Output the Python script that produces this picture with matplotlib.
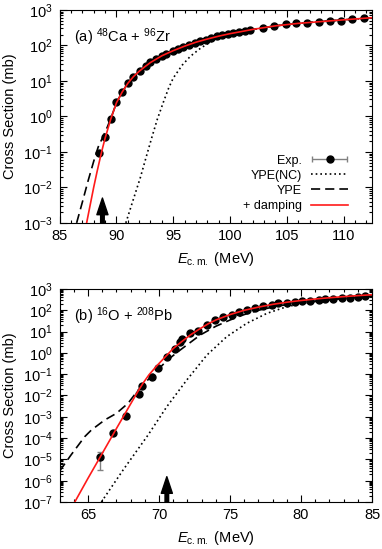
import numpy as np
import matplotlib
matplotlib.use("Agg")
import matplotlib.pyplot as plt
from matplotlib.container import ErrorbarContainer
from matplotlib.legend_handler import HandlerErrorbar
from matplotlib.ticker import MultipleLocator, LogLocator, NullFormatter

plt.rcParams["font.family"] = ["Liberation Sans", "DejaVu Sans"]
plt.rcParams["mathtext.fontset"] = "custom"
plt.rcParams["mathtext.rm"] = "Liberation Sans"
plt.rcParams["mathtext.it"] = "Liberation Sans:italic"

C_RED = "#ff1a1a"
C_ERR = "#808080"

# ---- (a) 48Ca + 96Zr ------------------------------------------------------
a_exp_E = [88.5, 89.0, 89.5, 90.0, 90.5, 91.0, 91.5, 92.1, 92.6, 93.0, 93.5,
           94.0, 94.4, 95.0, 95.4, 95.85, 96.35, 96.9, 97.4, 97.9, 98.35,
           98.85, 99.3, 99.8, 100.3, 100.8, 101.3, 101.8, 102.9, 103.85,
           104.9, 105.8, 106.8, 107.8, 108.8, 109.8, 110.75, 111.75]
a_exp_sig = [0.095, 0.27, 0.85, 2.6, 5.0, 8.9, 13.2, 19.5, 26.3, 33.9, 41.7,
             50, 59, 70, 81, 93, 105, 120, 135, 145, 162,
             178, 195, 209, 224, 240, 257, 275, 309, 355,
             398, 417, 427, 447, 479, 501, 537, 575]

a_damp_E = [87.38, 87.7, 88.0, 88.3, 88.6, 88.8, 89.0, 89.5, 90.0, 90.5, 91.0,
            91.5, 92.0, 92.5, 93.0, 94.0, 95.0, 96.0, 97.0, 98.0, 99.0, 100.0,
            101.0, 102.0, 104.0, 106.0, 108.0, 110.0, 112.5]
a_damp_sig = [1.0e-3, 3.3e-3, 1.0e-2, 2.8e-2, 7.4e-2, 0.135, 0.24, 0.83, 2.4,
              4.8, 8.5, 13.2, 18.6, 25, 33, 51, 71, 95, 123, 151, 182, 214,
              245, 282, 355, 417, 468, 525, 603]

a_ype_E = [86.5, 87.0, 87.5, 88.0, 88.4, 88.8, 89.2, 89.6, 90.0, 90.5, 91.0,
           91.5, 92.0, 92.5, 93.0, 94.0, 95.0, 96.0, 97.0, 98.0, 99.0, 100.0,
           101.0, 102.0, 104.0, 106.0, 108.0, 110.0, 112.5]
a_ype_sig = [1.0e-3, 3.8e-3, 1.5e-2, 5.4e-2, 0.138, 0.26, 0.50, 1.05, 2.4,
             4.8, 8.5, 13.2, 18.6, 25, 33, 51, 71, 95, 123, 151, 182, 214,
             245, 282, 355, 417, 468, 525, 603]

a_nc_E = [90.83, 91.5, 92.1, 92.6, 93.1, 93.6, 94.15, 94.6, 95.0, 95.8, 96.5,
          97.4, 98.3, 99.1, 100.0, 101.0, 102.0, 104.0, 106.0, 108.0, 110.0,
          112.5]
a_nc_sig = [1.0e-3, 4.7e-3, 1.86e-2, 6.8e-2, 0.245, 0.83, 2.6, 6.3, 12, 28,
            49, 83, 126, 174, 204, 240, 282, 355, 417, 468, 525, 589]

a_arrow_E = 88.77

# ---- (b) 16O + 208Pb ------------------------------------------------------
b_exp_E = [65.83, 66.77, 67.7, 68.61, 68.83, 69.49, 69.96, 70.55, 71.13,
           71.49, 71.65, 72.19, 72.77, 73.36, 73.95, 74.54, 75.13, 75.6,
           76.18, 76.77, 77.35, 77.94, 78.4, 79.0, 79.58, 80.06, 80.64,
           81.23, 81.7, 82.28, 82.87, 83.46, 84.04, 84.51]
b_exp_sig = [1.26e-5, 1.66e-4, 1.1e-3, 1.17e-2, 2.8e-2, 7.1e-2, 0.19, 0.62,
             1.6, 3.4, 4.5, 8.9, 11.2, 21.4, 35, 47, 60, 81,
             102, 132, 158, 182, 214, 229, 234, 263, 282,
             302, 339, 355, 380, 389, 417, 457]
b_err_lo = [0.95e-5] + [0] * 33
b_err_hi = [1.0e-5] + [0] * 33

b_damp_E = [64.07, 65.0, 66.0, 67.0, 68.0, 68.5, 68.9, 69.3, 69.85, 70.45,
            71.0, 71.6, 72.2, 72.8, 73.5, 74.0, 75.0, 76.0, 77.0, 78.0, 79.0,
            80.0, 81.0, 82.0, 83.0, 84.0, 85.0]
b_damp_sig = [1.0e-7, 1.3e-6, 1.9e-5, 2.8e-4, 4.0e-3, 1.5e-2, 4.0e-2, 9.5e-2,
              0.25, 0.66, 1.6, 3.4, 6.9, 12.6, 24, 35, 63, 100, 141, 190,
              240, 288, 339, 389, 437, 490, 537]

b_ype_E = [63.0, 63.8, 64.77, 65.24, 66.18, 67.0, 67.82, 68.5, 69.1, 69.9,
           70.66, 71.5, 72.9, 74.0, 75.0, 76.0, 77.0, 78.0, 79.0, 80.0, 82.0,
           85.0]
b_ype_sig = [2.8e-6, 1.6e-5, 1.17e-4, 2.4e-4, 7.1e-4, 1.45e-3, 4.3e-3,
             1.7e-2, 4.5e-2, 0.16, 0.5, 1.38, 6.9, 17.8, 35, 63, 100, 141,
             186, 229, 316, 457]

b_nc_E = [65.94, 67.5, 69.23, 70.55, 71.96, 73.37, 74.77, 76.18, 77.6, 79.0,
          80.4, 82.3, 85.0]
b_nc_sig = [1.0e-7, 3.4e-6, 1.4e-4, 3.0e-3, 5.4e-2, 0.79, 5.8, 24.5, 72,
            148, 229, 331, 437]

b_arrow_E = 70.55


def style(ax, xlim, ylim):
    ax.set_yscale("log")
    ax.set_xlim(*xlim)
    ax.set_ylim(*ylim)
    ax.xaxis.set_major_locator(MultipleLocator(5))
    ax.xaxis.set_minor_locator(MultipleLocator(1))
    ax.yaxis.set_major_locator(LogLocator(base=10, numticks=20))
    ax.yaxis.set_minor_locator(LogLocator(base=10, subs=np.arange(2, 10), numticks=20))
    ax.yaxis.set_minor_formatter(NullFormatter())
    ax.tick_params(which="both", direction="in", top=True, right=True,
                   labelsize=10.5, width=0.8)
    ax.tick_params(which="major", length=5)
    ax.tick_params(which="minor", length=2.5)
    ax.tick_params(axis="x", pad=4.5)
    ax.tick_params(axis="y", pad=5)
    ax.set_xlabel(r"$E_{\mathrm{c.m.}}$ (MeV)", fontsize=10.5)
    ax.set_ylabel("Cross Section (mb)", fontsize=10.5)
    ax.yaxis.set_label_coords(-0.135, 0.5)
    ax.xaxis.set_label_coords(0.5, -0.125)


def arrow(ax, x, tip, base):
    ax.annotate("", xy=(x, tip), xytext=(x, base),
                arrowprops=dict(facecolor="k", edgecolor="k", width=2.6,
                                headwidth=8, headlength=12, shrink=0))


fig = plt.figure(figsize=(3.82, 5.49))
ax_a = fig.add_axes([0.156, 0.594, 0.818, 0.388])
ax_b = fig.add_axes([0.156, 0.0856, 0.818, 0.388])

# (a)
ax = ax_a
ax.plot(a_exp_E, a_exp_sig, "o", color="k", ms=5, zorder=2)
l_nc, = ax.plot(a_nc_E, a_nc_sig, color="k", lw=1.2, ls=(0, (1, 1.8)), zorder=3)
l_ype, = ax.plot(a_ype_E, a_ype_sig, color="k", lw=1.2, ls=(0, (5.5, 3)), zorder=3)
l_damp, = ax.plot(a_damp_E, a_damp_sig, color=C_RED, lw=1.2, zorder=4)
proxy = ax.errorbar([np.nan], [np.nan], xerr=[1], fmt="o", color="k", ms=5,
                    ecolor=C_ERR, elinewidth=1, capsize=2.5)
style(ax, (85, 112.5), (1e-3, 1e3))
arrow(ax, a_arrow_E, 10 ** -2.3, 1e-3)
ax.text(0.046, 0.87, r"(a) $^{48}$Ca + $^{96}$Zr", transform=ax.transAxes,
        fontsize=10.5, va="center")
ax.legend([proxy, l_nc, l_ype, l_damp], ["Exp.", "YPE(NC)", "YPE", "+ damping"],
          loc="lower right", bbox_to_anchor=(0.936, 0.034), borderaxespad=0,
          borderpad=0.3, frameon=False, markerfirst=False, fontsize=9,
          handlelength=3.0, handletextpad=0.7, labelspacing=0.25,
          handler_map={ErrorbarContainer: HandlerErrorbar(xerr_size=1.4)})

# (b)
ax = ax_b
ax.errorbar(b_exp_E, b_exp_sig, yerr=[b_err_lo, b_err_hi], fmt="o", color="k",
            ms=5, ecolor=C_ERR, elinewidth=1, capsize=2, zorder=2)
ax.plot(b_nc_E, b_nc_sig, color="k", lw=1.2, ls=(0, (1, 1.8)), zorder=3)
ax.plot(b_ype_E, b_ype_sig, color="k", lw=1.2, ls=(0, (5.5, 3)), zorder=3)
ax.plot(b_damp_E, b_damp_sig, color=C_RED, lw=1.2, zorder=4)
style(ax, (63, 85), (1e-7, 1e3))
arrow(ax, b_arrow_E, 10 ** -5.81, 1e-7)
ax.text(0.046, 0.87, r"(b) $^{16}$O + $^{208}$Pb", transform=ax.transAxes,
        fontsize=10.5, va="center")

fig.savefig("out.png", dpi=100)
